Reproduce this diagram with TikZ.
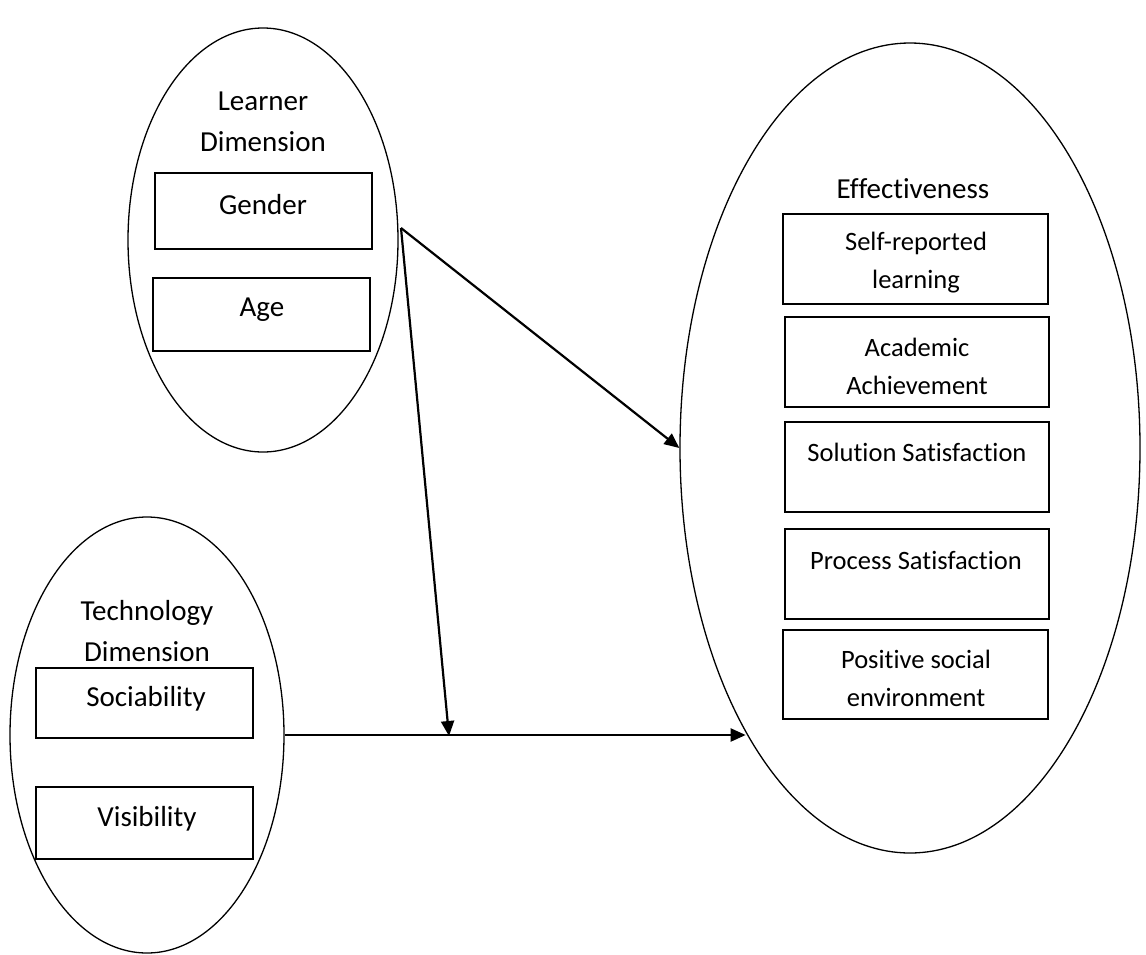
\documentclass[tikz,border=0pt]{standalone}
\usepackage{fontspec}
\setmainfont{Carlito}[Ligatures={NoCommon}]
\usetikzlibrary{shapes.geometric,arrows.meta}
\begin{document}
\begin{tikzpicture}[x=1pt,y=-1pt,
  group/.style={draw, ellipse, line width=1.3pt, inner sep=0pt},
  item/.style={draw, rectangle, line width=1.5pt, inner sep=0pt},
  txt/.style={font=\fontsize{29}{41}\selectfont, align=center, inner sep=0pt},
  outtxt/.style={font=\fontsize{26.5}{38}\selectfont, align=center, inner sep=0pt},
  arr/.style={line width=2.2pt, -{Triangle[length=15pt,width=13pt]}}]
\useasboundingbox (0,0) rectangle (1146,954);

% learner dimension
\node[group, minimum width=270pt, minimum height=424pt] (learner) at (263,240) {};
\node[txt] (learner-t) at (263,122) {Learner\\Dimension};
\node[item, minimum width=217pt, minimum height=76pt] (gender) at (263.5,211) {};
\node[txt] (gender-t) at (263,205) {Gender};
\node[item, minimum width=217pt, minimum height=73pt] (age) at (261.5,314.5) {};
\node[txt] (age-t) at (262,310) {Age};

% technology dimension
\node[group, minimum width=274pt, minimum height=436pt] (tech) at (147,735) {};
\node[txt] (tech-t) at (147,631) {Technology\\Dimension};
\node[item, minimum width=217pt, minimum height=70pt] (soc) at (144.5,703) {};
\node[txt] (soc-t) at (146,699) {Sociability};
\node[item, minimum width=217pt, minimum height=72pt] (vis) at (144.5,823) {};
\node[txt] (vis-t) at (147,819) {Visibility};

% effectiveness
\node[group, minimum width=460pt, minimum height=810pt] (eff) at (910,448) {};
\node[txt] (eff-t) at (913,189) {Effectiveness};
\node[item, minimum width=265pt, minimum height=90pt] (self) at (915.5,259) {};
\node[outtxt] (self-t) at (916,263) {Self-reported\\learning};
\node[item, minimum width=264pt, minimum height=90pt] (acad) at (917,362) {};
\node[outtxt] (acad-t) at (917,366) {Academic\\Achievement};
\node[item, minimum width=264pt, minimum height=90pt] (sol) at (917,467) {};
\node[outtxt] (sol-t) at (917,452) {Solution Satisfaction};
\node[item, minimum width=264pt, minimum height=90pt] (proc) at (917,574) {};
\node[outtxt] (proc-t) at (916,560) {Process Satisfaction};
\node[item, minimum width=265pt, minimum height=89pt] (pos) at (915.5,674.5) {};
\node[outtxt] (pos-t) at (916,678) {Positive social\\environment};

% connectors
\coordinate (fork) at (401,228);
\coordinate (hmid) at (449,736);
\draw[arr] (fork) -- (eff.west);
\draw[arr] (fork) -- (hmid);
\draw[arr] (tech.east) -- (eff.240.6 |- tech.east);
\end{tikzpicture}
\end{document}
